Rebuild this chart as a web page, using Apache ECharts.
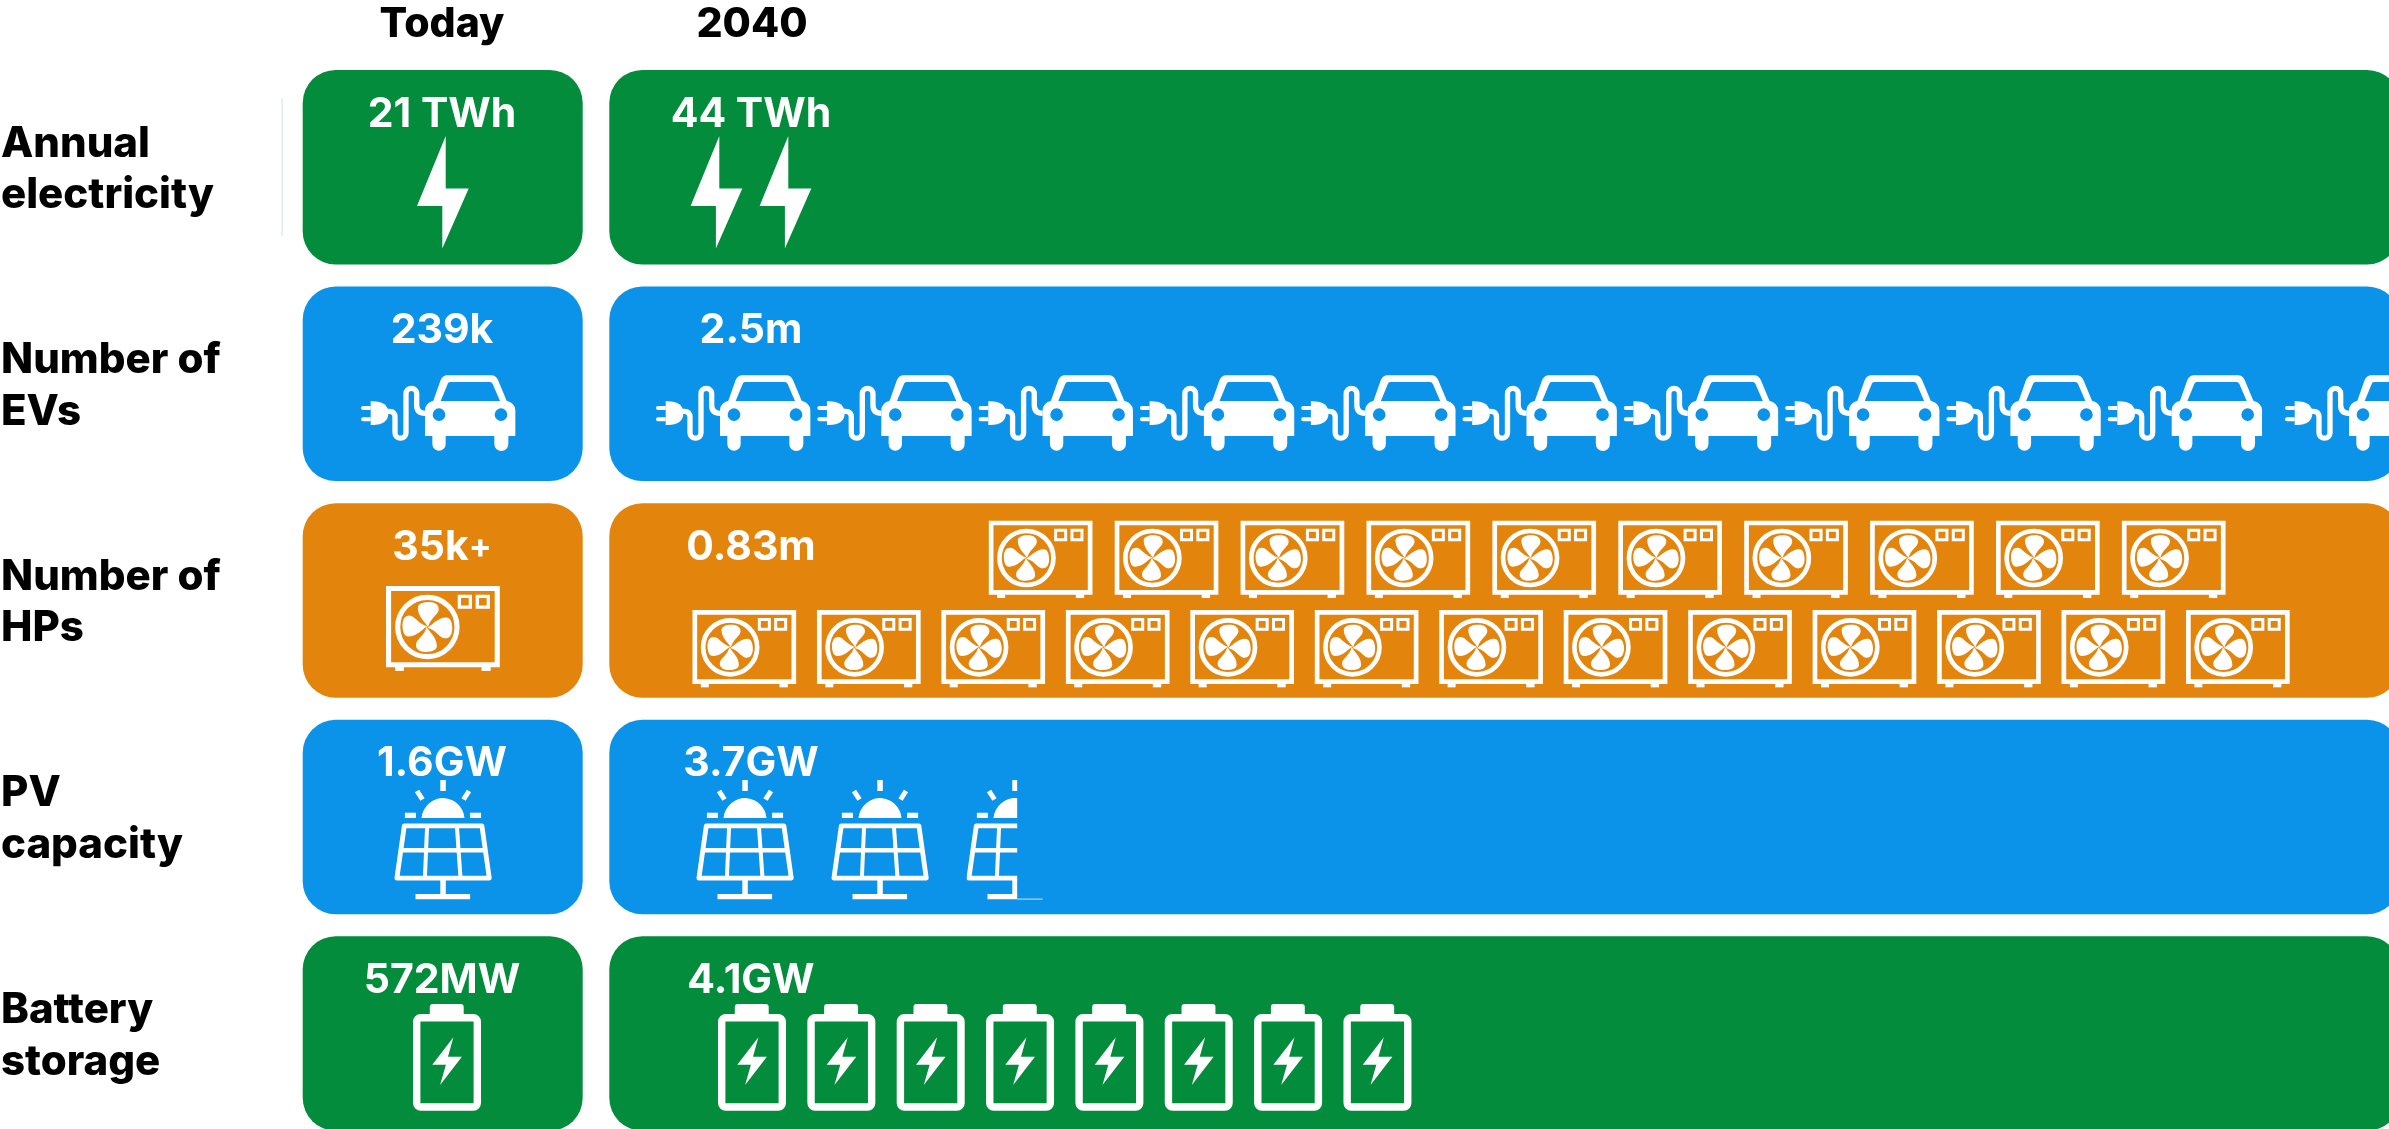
<!DOCTYPE html>
<html><head><meta charset="utf-8">
<style>html,body{margin:0;padding:0;background:#fff;overflow:hidden;height:1129px}#c{width:2389px;height:1160px}</style>
<script src="https://cdn.jsdelivr.net/npm/echarts@6/dist/echarts.min.js"></script>
</head><body><div id="c"></div>
<script>
// ---- data ----
const categories = ['Annual\nelectricity', 'Number of\nEVs', 'Number of\nHPs', 'PV\ncapacity', 'Battery\nstorage'];
const periods = ['Today', '2040'];
const todayLabels = ['21 TWh', '239k', '35k{p|+}', '1.6GW', '572MW'];
const futureLabels = ['44 TWh', '2.5m', '0.83m', '3.7GW', '4.1GW'];
const todayIcons = [1, 1, 1, 1, 1];
const futureIcons = [2, 11, 23, 2.52, 8];

// ---- layout & style ----
const W = 2389;
const FONT = 'Inter';
const rowColors = ['#028c3c', '#0a93e8', '#e3850d', '#0a93e8', '#028c3c'];
const PANEL_H = 194.5, PANEL_R = 33;
const todayPanel = [302.7, 582.7], futurePanel = [609.3, 2400];
const TODAY_CX = 442, FUTURE_CX = 751;
const kinds = ['bolt', 'ev', 'hp', 'pv', 'battery'];
const iconW = {bolt: 52, ev: 154, hp: 103.7, pv: 97.5, battery: 68};
const todayPlace = [[417, -31.2, 1], [361, -8.5, 1], [386, -14.4, 1.098], [394.5, -37, 1], [413, -29.6, 1]];
// each run: how many icons, start x, pitch, top offset from the row centre
const futureRuns = [
  [[Infinity, 690.6, 69, -31.2]],
  [[10, 656, 161.3, -8.5], [Infinity, 2285, 177, -8.5]],
  [[10, 988.8, 125.9, -79.7], [Infinity, 692.5, 124.46, 9.6]],
  [[Infinity, 696.5, 135, -37]],
  [[Infinity, 718, 89.35, -29.6]]
];

const panelData = [];
const iconData = [];
const textData = [];
const texts = [];
// text roles: 0 column head, 1 value inside a panel, 2 row label
function addText(str, x, row, off, role) { texts.push(str); textData.push([x, row, off, texts.length - 1, role]); }
periods.forEach((p, i) => addText(p, i ? 752 : 442, 0, -143, 0));
categories.forEach((c, r) => {
  addText(c, 1, r, 2.5, 2);
  panelData.push([todayPanel[0], r, todayPanel[1] - todayPanel[0]]);
  panelData.push([futurePanel[0], r, futurePanel[1] - futurePanel[0]]);
  addText(todayLabels[r], TODAY_CX, r, -53, 1);
  addText(futureLabels[r], FUTURE_CX, r, -53, 1);
  iconData.push([todayPlace[r][0], r, todayPlace[r][1], r, todayPlace[r][2], todayIcons[r]]);
  let left = futureIcons[r];
  futureRuns[r].forEach(run => {
    const n = Math.min(run[0], Math.ceil(left));
    for (let i = 0; i < n; i++) {
      iconData.push([run[1] + i * run[2], r, run[3], r, 1, Math.min(1, left - i)]);
    }
    left -= n;
  });
});

const WHITE = '#ffffff';
const f = (d, extra) => Object.assign({type: 'path', shape: {pathData: d}, style: {fill: WHITE}}, extra || {});
const s = (d, w) => ({type: 'path', shape: {pathData: d}, style: {fill: 'none', stroke: WHITE, lineWidth: w, lineJoin: 'round'}});
const rectFill = (x, y, w, h) => ({type: 'rect', shape: {x, y, width: w, height: h}, style: {fill: WHITE}});
const rectLine = (x, y, w, h, lw, r) => ({type: 'rect', shape: {x, y, width: w, height: h, r: r || 0}, style: {fill: 'none', stroke: WHITE, lineWidth: lw}});

const painters = {
  bolt: () => [f('M28.7 0 L28.7 52.6 L51.7 52.6 L25.3 112.6 L25.3 70 L0 70 Z')],
  ev: () => [{
    type: 'group', scaleX: 1 / 3, scaleY: 1 / 3,
    children: [{
      type: 'group', x: -23, y: -286,
      children: [
        f('M215 468 L215 390 Q215 370 240 362 L262 300 Q268 286 282 286 L414 286 Q428 286 434 300 L460 362 Q486 370 486 390 L486 468 L465 468 L465 492 A21 21 0 0 1 423 492 L423 468 L277 468 L277 492 A20 20 0 0 1 237 492 L237 468 Z M262 363 L440 363 L418 312 Q415 306 410 306 L290 306 Q285 306 283 312 Z M238 404 A19 19 0 1 0 276 404 A19 19 0 1 0 238 404 Z M424 404 A19 19 0 1 0 462 404 A19 19 0 1 0 424 404 Z'),
        f('M52 364 Q105 362 105 400 Q105 437 52 435 Z'),
        f('M29 378 L52 378 L52 390 L29 390 A6 6 0 0 1 29 378 Z M29 412 L52 412 L52 424 L29 424 A6 6 0 0 1 29 412 Z'),
        s('M100 394 L108 394 Q125 394 125 412 L125 458 A16.5 16.5 0 0 0 158 458 L158 341 A16 16 0 0 1 190 341 L190 375 Q190 400 215 400', 16)
      ]
    }]
  }],
  hp: () => {
    const blade = 'M2 0 C-4 -12 -26 -28 -26 -52 C-26 -62 -14 -68 4 -68 C22 -68 32 -60 31 -47 C30 -34 8 -24 2 0 Z';
    return [{
      type: 'group', scaleX: 1 / 3, scaleY: 1 / 3,
      children: [
        rectLine(7, 7, 297, 208, 14),
        rectFill(25, 220, 24, 12), rectFill(261, 220, 25, 12),
        rectLine(200.5, 28.5, 30, 29, 9), rectLine(249.5, 28.5, 30, 29, 9),
        {type: 'circle', shape: {cx: 113, cy: 112, r: 81}, style: {fill: 'none', stroke: WHITE, lineWidth: 14}},
        {type: 'group', x: 113, y: 112, children: [0, 1, 2, 3].map(k => f(blade, {rotation: -k * Math.PI / 2}))}
      ]
    }];
  },
  pv: () => [
    rectFill(45.8, 0, 5.5, 11),
    s('M22.5 11 L28 19.5', 5), s('M74.5 11 L69 19.5', 5),
    rectFill(10.4, 32.7, 11, 5.3), rectFill(75.6, 32.7, 11, 5.3),
    f('M27 38 A21.6 22 0 0 1 70 38 Z'),
    s('M9.8 45.8 L87.4 45.8 L94.8 98.2 L2.4 98.2 Z', 4.8),
    s('M5.9 70.3 L91 70.3', 4.4),
    s('M32.6 46 L30.4 98', 4), s('M62.4 46 L66 98', 4),
    rectFill(45.8, 99, 5.5, 16),
    rectFill(21, 114, 54.6, 5.3)
  ],
  battery: () => [
    f('M16.8 11 L16.8 3 Q16.8 0 19.8 0 L47.7 0 Q50.7 0 50.7 3 L50.7 11 Z'),
    rectLine(3.7, 13.7, 60.6, 89.3, 7.4, 4),
    f('M40.4 33.3 L35 52.7 L48.9 52.7 L27.1 81 L32.9 60.7 L19.3 60.7 Z')
  ]
};

function renderPanel(params, api) {
  const p = api.coord([api.value(0), api.value(1)]);
  const w = api.size([api.value(2), 0])[0];
  return {
    type: 'rect',
    shape: {x: p[0], y: p[1] - PANEL_H / 2, width: w, height: PANEL_H, r: PANEL_R},
    style: {fill: rowColors[api.value(1)]}
  };
}
function renderIcon(params, api) {
  const p = api.coord([api.value(0), api.value(1)]);
  const kind = kinds[api.value(3)];
  const sc = api.value(4), frac = api.value(5);
  const inner = {type: 'group', children: painters[kind]()};
  const children = [inner];
  if (frac < 1) {
    const cw = frac * iconW[kind];
    inner.clipPath = {type: 'rect', shape: {x: 0, y: -2, width: cw, height: 130}};
    children.push({type: 'rect', shape: {x: cw, y: 118.6, width: 25.5, height: 1}, style: {fill: '#cfe8fa'}});
  }
  return {type: 'group', x: p[0], y: p[1] + api.value(2), scaleX: sc, scaleY: sc, children};
}
function renderText(params, api) {
  const p = api.coord([api.value(0), api.value(1)]);
  const role = api.value(4);
  const align = role === 2 ? 'left' : 'center';
  return {
    type: 'text', x: p[0], y: p[1] + api.value(2),
    style: {
      text: texts[api.value(3)], fill: role === 1 ? WHITE : '#000000',
      fontFamily: FONT, fontSize: role === 2 ? 42 : 41, fontWeight: role === 1 ? 700 : 800,
      lineHeight: 51.6,
      align, verticalAlign: 'middle', textAlign: align, textVerticalAlign: 'middle',
      rich: {p: {fontSize: 34, fontFamily: FONT, fontWeight: 700, fill: WHITE}}
    }
  };
}
function renderRule(params, api) {
  const p = api.coord([api.value(0), api.value(1)]);
  return {type: 'rect', shape: {x: p[0], y: p[1] - 69, width: 1, height: 138}, style: {fill: '#cfe3d7'}};
}

const chart = echarts.init(document.getElementById('c'), null, {renderer: 'canvas'});
chart.setOption({
  animation: false,
  backgroundColor: '#ffffff',
  grid: {left: 0, top: 58.9, width: W, height: 1083},
  xAxis: {type: 'value', min: 0, max: W, show: false},
  yAxis: {
    type: 'category', data: categories, inverse: true,
    axisLine: {show: false}, axisTick: {show: false}, splitLine: {show: false},
    axisLabel: {show: false}
  },
  series: [
    {type: 'custom', silent: true, clip: false, encode: {x: 0, y: 1}, data: panelData, renderItem: renderPanel, z: 1},
    {type: 'custom', silent: true, clip: false, encode: {x: 0, y: 1}, data: [[281.6, 0]], renderItem: renderRule, z: 1},
    {type: 'custom', silent: true, clip: false, encode: {x: 0, y: 1}, data: iconData, renderItem: renderIcon, z: 2},
    {type: 'custom', silent: true, clip: false, encode: {x: 0, y: 1}, data: textData, renderItem: renderText, z: 3}
  ]
});
</script></body></html>
